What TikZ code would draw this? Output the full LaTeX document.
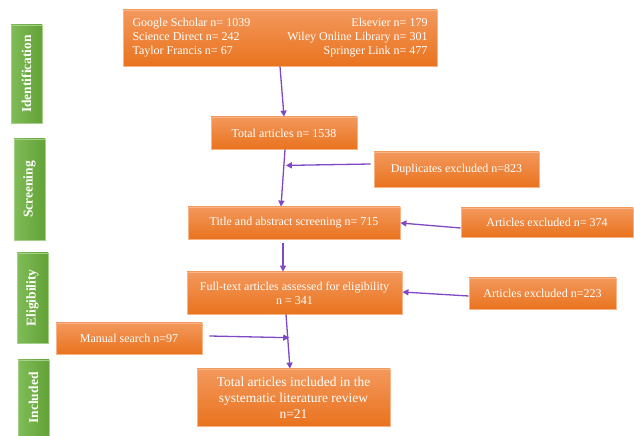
\documentclass[tikz,border=0pt]{standalone}
\usepackage{fontspec}
\setmainfont{Liberation Serif}
\usetikzlibrary{arrows.meta,calc}
\definecolor{orTop}{RGB}{243,152,92}
\definecolor{orBot}{RGB}{233,115,30}
\definecolor{orEdge}{RGB}{248,180,135}
\definecolor{grL}{RGB}{128,188,88}
\definecolor{grR}{RGB}{98,162,54}
\definecolor{arrc}{RGB}{128,72,196}
\tikzset{
  obox/.style={rectangle, inner sep=0pt, top color=orTop, bottom color=orBot, draw=orEdge, line width=0.8pt,
    text=white, align=center, font=\fontsize{12}{14}\selectfont},
  gbar/.style={rectangle, inner sep=0pt, left color=grL, right color=grR, draw=grL!70!white, line width=0.6pt,
    text=white, font=\fontsize{13.5}{15}\selectfont\bfseries},
  arr/.style={draw=arrc, line width=1.3pt, -{Triangle[length=6pt,width=6pt]}},
  lbl/.style={rotate=90}
}
\begin{document}
\begin{tikzpicture}[x=1pt,y=1pt]
\useasboundingbox (0,0) rectangle (634,436);
% phase bars
\node[gbar, minimum width=31pt, minimum height=98pt] (gid) at (26.5,362) {\rotatebox{90}{Identification}};
\node[gbar, minimum width=31pt, minimum height=101pt] (gscr) at (29.5,246.5) {\rotatebox{90}{Screening}};
\node[gbar, minimum width=31pt, minimum height=90pt] (gel) at (32.5,138) {\rotatebox{90}{Eligibility}};
\node[gbar, minimum width=31pt, minimum height=76pt] (gin) at (33.5,38) {\rotatebox{90}{Included}};
% boxes
\node[obox, minimum width=314pt, minimum height=56pt] (src) at (280,398)
  {\begin{tabular*}{295pt}{@{}l@{\extracolsep{\fill}}r@{}}
   Google Scholar n= 1039 & Elsevier n= 179\\
   Science Direct n= 242 & Wiley Online Library n= 301\\
   Taylor Francis n= 67 & Springer Link n= 477
   \end{tabular*}};
\node[obox, minimum width=146pt, minimum height=32pt] (total) at (284,303) {Total articles n= 1538};
\node[obox, minimum width=165pt, minimum height=35pt] (dup) at (456.5,266.5) {Duplicates excluded n=823};
\node[obox, minimum width=212pt, minimum height=32pt] (title) at (294,213) {Title and abstract screening n= 715};
\node[obox, minimum width=172pt, minimum height=29pt] (ex1) at (547,213.5) {Articles excluded n= 374};
\node[obox, minimum width=215pt, minimum height=42pt] (full) at (294.5,143) {Full-text articles assessed for eligibility\\n = 341};
\node[obox, minimum width=147pt, minimum height=31pt] (ex2) at (542.5,142.5) {Articles excluded n=223};
\node[obox, minimum width=146pt, minimum height=31pt] (man) at (129,97.5) {Manual search n=97};
\node[obox, minimum width=193pt, minimum height=57pt, font=\fontsize{13.5}{16}\selectfont] (fin) at (293.5,38.5)
  {Total articles included in the\\systematic literature review\\n=21};
% connectors
\draw[arr] (src.south) -- (total.north);
\draw[arr] ([xshift=1pt]total.south) -- ([xshift=-13pt]title.north);
\coordinate (m1) at ($([xshift=1pt]total.south)!0.28!([xshift=-13pt]title.north)$);
\draw[arr] ([xshift=-3pt,yshift=5.5pt]dup.west) -- ([xshift=2pt]m1);
\draw[arr] ([yshift=-5.5pt]ex1.west) -- (title.east);
\draw[arr] ([xshift=-11pt,yshift=-4pt]title.south) -- ([xshift=-11.5pt]full.north);
\draw[arr] ([yshift=-2.5pt]ex2.west) -- ([yshift=1pt]full.east);
\draw[arr] ([xshift=-8.5pt]full.south) -- ([xshift=-3.5pt]fin.north);
\coordinate (m2) at ($([xshift=-8.5pt]full.south)!0.43!([xshift=-3.5pt]fin.north)$);
\draw[arr] ([xshift=7pt,yshift=2.5pt]man.east) -- ([xshift=1.5pt]m2);
\end{tikzpicture}
\end{document}
